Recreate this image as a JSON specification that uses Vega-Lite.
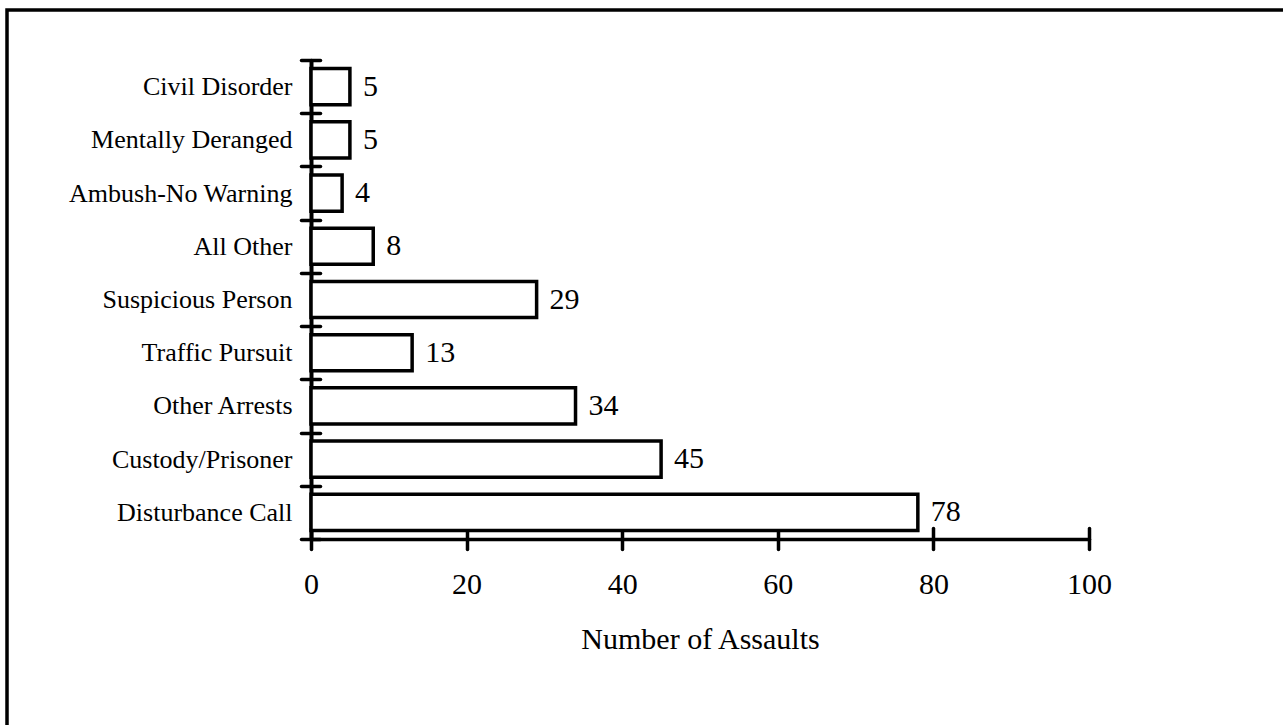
{
  "$schema": "https://vega.github.io/schema/vega-lite/v6.json",
  "autosize": {"type": "none"},
  "padding": {"left": 7, "top": 10, "right": 0, "bottom": 0},
  "width": 1290,
  "height": 730,
  "background": "white",
  "view": {"stroke": "black", "strokeWidth": 3.5, "fill": "white"},
  "config": {
    "font": "Liberation Serif",
    "axis": {"grid": false, "domainColor": "black", "tickColor": "black", "labelColor": "black", "titleColor": "black", "tickCap": "round", "labelFont": "Liberation Serif", "titleFont": "Liberation Serif", "titleFontWeight": "normal"}
  },
  "data": {
    "values": [
      {"category": "Civil Disorder", "assaults": 5},
      {"category": "Mentally Deranged", "assaults": 5},
      {"category": "Ambush-No Warning", "assaults": 4},
      {"category": "All Other", "assaults": 8},
      {"category": "Suspicious Person", "assaults": 29},
      {"category": "Traffic Pursuit", "assaults": 13},
      {"category": "Other Arrests", "assaults": 34},
      {"category": "Custody/Prisoner", "assaults": 45},
      {"category": "Disturbance Call", "assaults": 78}
    ]
  },
  "layer": [
    {
      "mark": {"type": "bar", "fill": "white", "stroke": "black", "strokeWidth": 3.5, "strokeJoin": "miter", "height": {"band": 0.68}},
      "encoding": {
        "y": {
          "field": "category", "type": "nominal", "sort": null,
          "scale": {"range": [50, 529], "paddingInner": 0, "paddingOuter": 0},
          "axis": {"orient": "left", "offset": -304, "title": null, "tickBand": "extent", "tickSize": 10, "tickWidth": 3.5, "domainWidth": 4, "labelFontSize": 26, "labelPadding": 9, "labelLimit": 400}
        },
        "x": {
          "field": "assaults", "type": "quantitative",
          "scale": {"domain": [0, 100], "range": [304, 1082], "nice": false, "zero": true},
          "axis": {"orient": "bottom", "offset": -201, "values": [0, 20, 40, 60, 80, 100], "tickSize": 10, "tickWidth": 3.5, "domainWidth": 3.5, "labelFontSize": 30, "labelPadding": 20, "title": "Number of Assaults", "titleFontSize": 30, "titleY": 109, "titleBaseline": "alphabetic", "labelFlush": false}
        }
      }
    },
    {
      "mark": {"type": "text", "align": "left", "baseline": "middle", "dx": 13, "fontSize": 30, "font": "Liberation Serif", "color": "black"},
      "encoding": {
        "y": {
          "field": "category", "type": "nominal", "sort": null,
          "axis": {"orient": "left", "offset": -304, "title": null, "tickBand": "extent", "tickSize": -9, "tickWidth": 3.5, "domain": false, "labels": false}
        },
        "x": {
          "field": "assaults", "type": "quantitative",
          "axis": {"orient": "bottom", "offset": -201, "values": [0, 20, 40, 60, 80, 100], "tickSize": -11, "tickWidth": 3.5, "domain": false, "labels": false, "title": null}
        },
        "text": {"field": "assaults", "type": "quantitative"}
      }
    }
  ],
  "resolve": {"axis": {"x": "independent", "y": "independent"}}
}
